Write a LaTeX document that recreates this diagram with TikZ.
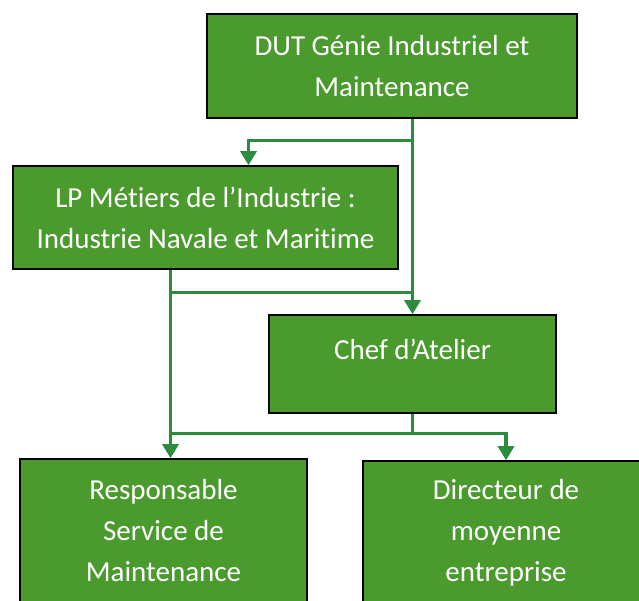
\documentclass[tikz,border=0pt]{standalone}
\usepackage{fontspec}
\setmainfont{Carlito}[Ligatures=NoCommon]
\usetikzlibrary{arrows.meta}
\definecolor{boxgreen}{RGB}{74,154,46}
\definecolor{linegreen}{RGB}{42,140,60}
\tikzset{
  box/.style={draw=black, line width=1.6pt, fill=boxgreen, text=white, align=center,
    font=\fontsize{29}{41}\selectfont, inner sep=0pt},
  link/.style={draw=linegreen, line width=3.2pt},
  flow/.style={link, -{Triangle[width=16pt,length=14pt]}}
}
\begin{document}
\begin{tikzpicture}[x=1pt,y=-1pt]
      \useasboundingbox (0,0) rectangle (639,600);
      \node[box, minimum width=370pt, minimum height=104pt] (dut) at (392,66) {DUT Génie Industriel et\\Maintenance};
      \node[box, minimum width=385pt, minimum height=103pt] (lp) at (205.5,217.5) {LP Métiers de l’Industrie :\\Industrie Navale et Maritime};
      \node[box, minimum width=287pt, minimum height=98pt, text depth=29pt] (chef) at (412.5,364) {Chef d’Atelier};
      \node[box, minimum width=287pt, minimum height=144pt] (resp) at (163.5,531) {Responsable\\Service de\\Maintenance};
      \node[box, minimum width=286pt, minimum height=144pt] (dir) at (506,533) {Directeur de\\moyenne\\entreprise};
      \coordinate (dutout) at (dut.south -| chef.north);
      \coordinate (lpout) at ([xshift=-35pt]lp.south);
      \draw[flow] (dutout) -- (chef.north);
      \draw[flow] (dutout) ++(0,22) -| ([xshift=43pt]lp.north);
      \draw[flow] (lpout) -- (lpout |- resp.north);
      \draw[link] (lpout) ++(0,23) coordinate (lpjoin) -- (lpjoin -| chef.north);
      \draw[link] (chef.south) -- ++(0,20) coordinate (chefjoin) -- (chefjoin -| lpout);
      \draw[flow] (chefjoin) -| (dir.north);
    \end{tikzpicture}
\end{document}
